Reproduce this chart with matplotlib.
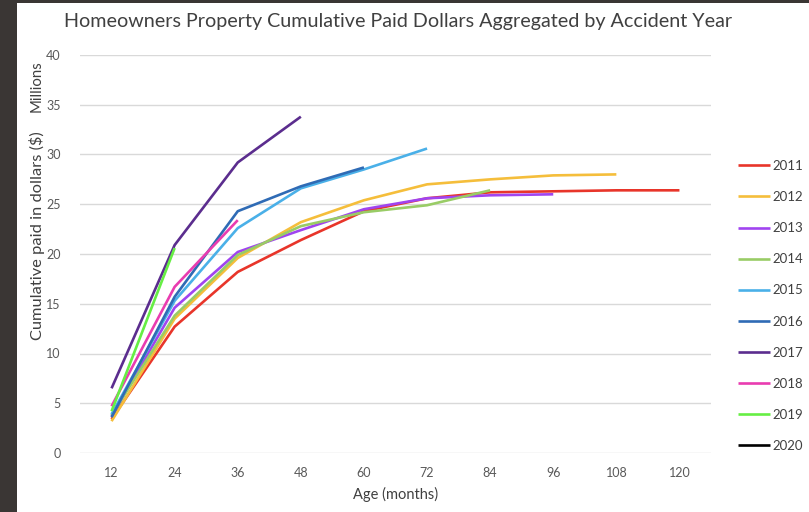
import matplotlib.pyplot as plt
from matplotlib.patches import Rectangle

plt.rcParams['font.family'] = ['Lato', 'DejaVu Sans']

ages = [12, 24, 36, 48, 60, 72, 84, 96, 108, 120]
years = ['2011', '2012', '2013', '2014', '2015', '2016', '2017', '2018', '2019', '2020']

# cumulative paid, millions of dollars, by development age
paid_2011 = [3.4, 12.7, 18.2, 21.4, 24.3, 25.6, 26.2, 26.3, 26.4, 26.4]
paid_2012 = [3.2, 13.5, 19.6, 23.2, 25.4, 27.0, 27.5, 27.9, 28.0]
paid_2013 = [3.7, 14.6, 20.2, 22.4, 24.5, 25.6, 25.9, 26.0]
paid_2014 = [3.8, 13.8, 19.9, 22.8, 24.2, 24.9, 26.4]
paid_2015 = [3.9, 15.3, 22.6, 26.6, 28.5, 30.6]
paid_2016 = [3.6, 15.7, 24.3, 26.8, 28.7]
paid_2017 = [6.5, 20.9, 29.2, 33.8]
paid_2018 = [4.7, 16.7, 23.4]
paid_2019 = [4.2, 20.6]
paid_2020 = [3.7]

series = [paid_2011, paid_2012, paid_2013, paid_2014, paid_2015,
          paid_2016, paid_2017, paid_2018, paid_2019, paid_2020]
colors = ['#e8352a', '#f5be3b', '#a044f0', '#99cc66', '#4ab0e8',
          '#2f6bb5', '#5b2d8e', '#e93cb0', '#66ee44', '#000000']

fig = plt.figure(figsize=(8.09, 5.12), dpi=100)
fig.patch.set_facecolor('#3a3634')
# white chart panel behind everything
fig.patches.append(Rectangle((17 / 809, 0), 1 - 17 / 809, 1 - 3 / 512,
                             transform=fig.transFigure, facecolor='white',
                             edgecolor='none', zorder=-10))

ax = fig.add_axes([80 / 809, 59 / 512, 631 / 809, 398 / 512])
ax.set_facecolor('none')

lines = []
for yr, vals, c in zip(years, series, colors):
    ln, = ax.plot(ages[:len(vals)], vals, color=c, lw=1.9, label=yr,
                  solid_capstyle='butt')
    lines.append(ln)

ax.set_xlim(6, 126)
ax.set_ylim(0, 40)
ax.set_xticks(ages)
ax.set_yticks(range(0, 41, 5))
ax.grid(axis='y', color='#d9d9d9', lw=1)
ax.set_axisbelow(True)
for s in ax.spines.values():
    s.set_visible(False)
ax.tick_params(length=0, labelsize=9, colors='#595959', pad=10)
ax.tick_params(axis='y', pad=14)

ax.set_xlabel('Age (months)', fontsize=10.5, color='#404040', labelpad=6)
fig.text(37 / 809, 1 - 236 / 512, 'Cumulative paid in dollars ($)', rotation=90,
         ha='center', va='center', fontsize=11.8, color='#404040')
fig.text(37 / 809, 1 - 86 / 512, 'Millions', rotation=90,
         ha='center', va='center', fontsize=10.8, color='#404040')

fig.text(398 / 809, 1 - 22 / 512,
         'Homeowners Property Cumulative Paid Dollars Aggregated by Accident Year',
         ha='center', va='center', fontsize=14.2, color='#404040')

leg = fig.legend(handles=lines, loc='center left',
                 bbox_to_anchor=(733 / 809, 1 - 306 / 512),
                 frameon=False, fontsize=9.5, handlelength=2.4,
                 handletextpad=0.2, labelspacing=1.45, borderaxespad=0)
for t in leg.get_texts():
    t.set_color('#404040')

fig.savefig('out.png', dpi=100, facecolor=fig.get_facecolor())
